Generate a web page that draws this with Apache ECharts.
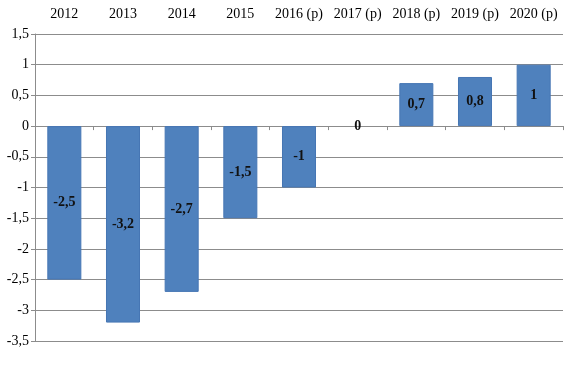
<!DOCTYPE html>
<html><head><meta charset="utf-8">
<script src="https://cdn.jsdelivr.net/npm/echarts@6/dist/echarts.min.js"></script>
<style>html,body{margin:0;padding:0;background:#fff}#c{width:567px;height:367px}</style>
</head><body><div id="c"></div>
<script>
const categories = ['2012','2013','2014','2015','2016 (p)','2017 (p)','2018 (p)','2019 (p)','2020 (p)'];
const values = [-2.5,-3.2,-2.7,-1.5,-1,0,0.7,0.8,1];
const yMin = -3.5, yMax = 1.5, yStep = 0.5;
const fmt = v => String(v).replace('.', ',');
const font = 'Liberation Serif';
const barData = values.map(v => v === 0 ? {value: v, itemStyle: {borderWidth: 0}} : v);
const chart = echarts.init(document.getElementById('c'));
chart.setOption({
  animation: false,
  grid: {left: 35, right: 4, top: 34, bottom: 26},
  xAxis: [
    {type: 'category', data: categories, position: 'bottom',
     axisLine: {onZero: true, lineStyle: {color: '#8c8c8c'}},
     axisTick: {show: true, length: 4, lineStyle: {color: '#8c8c8c'}},
     axisLabel: {show: false}},
    {type: 'category', data: categories, position: 'top',
     axisLine: {show: false}, axisTick: {show: false},
     axisLabel: {fontFamily: font, fontSize: 14, color: '#000', margin: 13, interval: 0}}
  ],
  yAxis: {type: 'value', min: yMin, max: yMax, interval: yStep,
    axisLine: {show: true, lineStyle: {color: '#8c8c8c'}},
    axisTick: {show: true, length: 4, lineStyle: {color: '#8c8c8c'}},
    splitLine: {lineStyle: {color: '#8c8c8c'}},
    axisLabel: {fontFamily: font, fontSize: 14, color: '#000', margin: 6, formatter: fmt}},
  series: [{type: 'bar', xAxisIndex: 0, data: barData, barWidth: '58%',
    itemStyle: {color: '#4F81BD', borderColor: '#4676b4', borderWidth: 1},
    label: {show: true, position: 'inside', fontFamily: font, fontSize: 14, fontWeight: 'bold', color: '#111', formatter: p => fmt(p.value)}}]
});
</script></body></html>
